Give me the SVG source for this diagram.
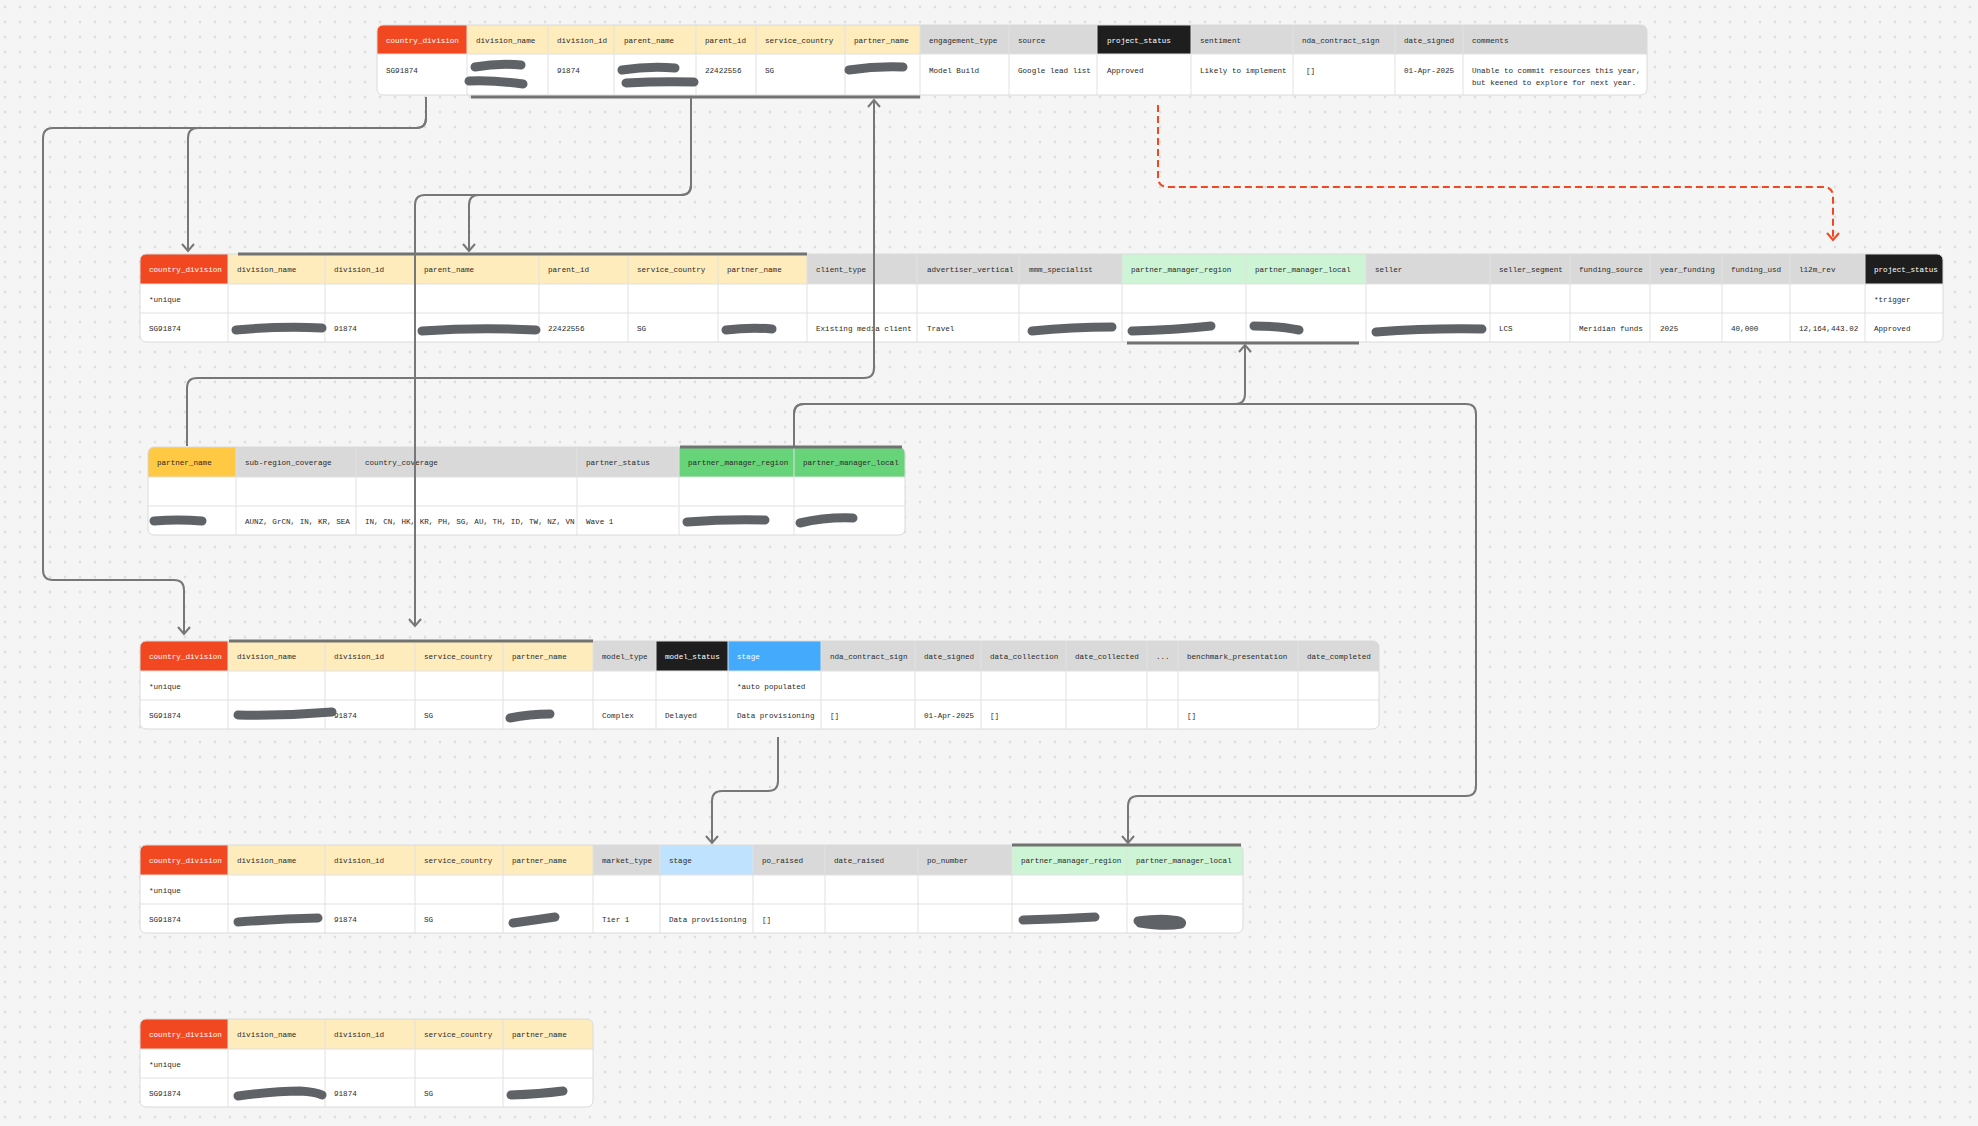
<svg xmlns="http://www.w3.org/2000/svg" width="1978" height="1126" viewBox="0 0 1978 1126">
<style>
.t{font-family:"Liberation Mono","DejaVu Sans Mono",monospace;font-size:7.6px;fill:#2a2a2a;dominant-baseline:central;transform:translateY(1px)}
.w{fill:#ffffff}
.hr{fill:#f24822}.hy{fill:#ffecbd}.hg{fill:#d9d9d9}.hk{fill:#1e1e1e}.hl{fill:#cdf5d5}.hG{fill:#68d47a}.hY{fill:#ffc943}.hB{fill:#43aafc}.hb{fill:#bfe3fe}
.cell{fill:#ffffff}
.ln{stroke:#e1e1e1;stroke-width:1;fill:none}
.out{fill:none;stroke:#dadada;stroke-width:1}
.conn{fill:none;stroke:#777777;stroke-width:2}
.red{fill:none;stroke:#f24822;stroke-width:2;stroke-dasharray:7 4}
.br{fill:none;stroke:#727272;stroke-width:3}
.scr{fill:none;stroke:#5f6368;stroke-width:9;stroke-linecap:round;stroke-linejoin:round}
</style>
<defs>
<pattern id="dots" patternUnits="userSpaceOnUse" x="-2.5" y="-0.5" width="15" height="15">
<circle cx="7.5" cy="7.5" r="0.9" fill="#c2c2c2"/>
</pattern>
<marker id="ah" markerUnits="userSpaceOnUse" viewBox="-10 -10 20 20" markerWidth="20" markerHeight="20" refX="0" refY="0" orient="auto">
<path d="M-7,-6 L0,0 L-7,6" fill="none" stroke="#777777" stroke-width="2"/>
</marker>
<marker id="ahr" markerUnits="userSpaceOnUse" viewBox="-10 -10 20 20" markerWidth="20" markerHeight="20" refX="0" refY="0" orient="auto">
<path d="M-7,-6 L0,0 L-7,6" fill="none" stroke="#f24822" stroke-width="2"/>
</marker>
<clipPath id="c1"><rect x="377" y="25" width="1270" height="70" rx="6"/></clipPath>
<clipPath id="c2"><rect x="140" y="254" width="1803" height="88" rx="6"/></clipPath>
<clipPath id="c3"><rect x="148" y="447" width="757" height="88" rx="6"/></clipPath>
<clipPath id="c4"><rect x="140" y="641" width="1239" height="88" rx="6"/></clipPath>
<clipPath id="c5"><rect x="140" y="845" width="1103" height="88" rx="6"/></clipPath>
<clipPath id="c6"><rect x="140" y="1019" width="453" height="88" rx="6"/></clipPath>
</defs>
<rect width="1978" height="1126" fill="#f5f5f5"/>
<rect width="1978" height="1126" fill="url(#dots)"/>

<!-- Table 1 -->
<g id="table-engagement">
<g clip-path="url(#c1)">
<rect class="cell" x="377" y="25" width="1270" height="70"/>
<rect class="hr" x="377" y="25" width="90" height="29"/>
<rect class="hy" x="467" y="25" width="453" height="29"/>
<rect class="hg" x="920" y="25" width="177" height="29"/>
<rect class="hk" x="1097" y="25" width="94" height="29"/>
<rect class="hg" x="1191" y="25" width="456" height="29"/>
<path class="ln" d="M467,25V95M548,25V95M614,25V95M696,25V95M756,25V95M845,25V95M920,25V95M1009,25V95M1097,25V95M1191,25V95M1293,25V95M1395,25V95M1463,25V95M377,54H1647"/>
</g>
<rect class="out" x="377" y="25" width="1270" height="70" rx="6"/>
<text class="t w" x="386" y="39.5">country_division</text>
<text class="t" x="476" y="39.5">division_name</text>
<text class="t" x="557" y="39.5">division_id</text>
<text class="t" x="624" y="39.5">parent_name</text>
<text class="t" x="705" y="39.5">parent_id</text>
<text class="t" x="765" y="39.5">service_country</text>
<text class="t" x="854" y="39.5">partner_name</text>
<text class="t" x="929" y="39.5">engagement_type</text>
<text class="t" x="1018" y="39.5">source</text>
<text class="t w" x="1107" y="39.5">project_status</text>
<text class="t" x="1200" y="39.5">sentiment</text>
<text class="t" x="1302" y="39.5">nda_contract_sign</text>
<text class="t" x="1404" y="39.5">date_signed</text>
<text class="t" x="1472" y="39.5">comments</text>
<text class="t" x="386" y="69.5">SG91874</text>
<text class="t" x="557" y="69.5">91874</text>
<text class="t" x="705" y="69.5">22422556</text>
<text class="t" x="765" y="69.5">SG</text>
<text class="t" x="929" y="69.5">Model Build</text>
<text class="t" x="1018" y="69.5">Google lead list</text>
<text class="t" x="1107" y="69.5">Approved</text>
<text class="t" x="1200" y="69.5">Likely to implement</text>
<text class="t" x="1306" y="69.5">[]</text>
<text class="t" x="1404" y="69.5">01-Apr-2025</text>
<text class="t" x="1472" y="69.5">Unable to commit resources this year,</text>
<text class="t" x="1472" y="81.5">but keened to explore for next year.</text>
<path class="scr" d="M475,67 Q498,63 521,65"/>
<path class="scr" d="M469,81 Q495,80 523,84"/>
<path class="scr" d="M622,70 Q648,66 675,68"/>
<path class="scr" d="M626,83 Q660,81 694,82"/>
<path class="scr" d="M849,70 Q876,66 903,67"/>
</g>

<!-- Table 2 -->
<g id="table-opportunity">
<g clip-path="url(#c2)">
<rect class="cell" x="140" y="254" width="1803" height="88"/>
<rect class="hr" x="140" y="254" width="88" height="30"/>
<rect class="hy" x="228" y="254" width="579" height="30"/>
<rect class="hg" x="807" y="254" width="315" height="30"/>
<rect class="hl" x="1122" y="254" width="244" height="30"/>
<rect class="hg" x="1366" y="254" width="499" height="30"/>
<rect class="hk" x="1865" y="254" width="78" height="30"/>
<path class="ln" d="M228,254V342M325,254V342M415,254V342M539,254V342M628,254V342M718,254V342M807,254V342M917,254V342M1019,254V342M1122,254V342M1246,254V342M1366,254V342M1490,254V342M1570,254V342M1650,254V342M1722,254V342M1790,254V342M1865,254V342M140,284H1943M140,313H1943"/>
</g>
<rect class="out" x="140" y="254" width="1803" height="88" rx="6"/>
<text class="t w" x="149" y="269">country_division</text>
<text class="t" x="237" y="269">division_name</text>
<text class="t" x="334" y="269">division_id</text>
<text class="t" x="424" y="269">parent_name</text>
<text class="t" x="548" y="269">parent_id</text>
<text class="t" x="637" y="269">service_country</text>
<text class="t" x="727" y="269">partner_name</text>
<text class="t" x="816" y="269">client_type</text>
<text class="t" x="927" y="269">advertiser_vertical</text>
<text class="t" x="1029" y="269">mmm_specialist</text>
<text class="t" x="1131" y="269">partner_manager_region</text>
<text class="t" x="1255" y="269">partner_manager_local</text>
<text class="t" x="1375" y="269">seller</text>
<text class="t" x="1499" y="269">seller_segment</text>
<text class="t" x="1579" y="269">funding_source</text>
<text class="t" x="1660" y="269">year_funding</text>
<text class="t" x="1731" y="269">funding_usd</text>
<text class="t" x="1799" y="269">l12m_rev</text>
<text class="t w" x="1874" y="269">project_status</text>
<text class="t" x="149" y="298.5">*unique</text>
<text class="t" x="1874" y="298.5">*trigger</text>
<text class="t" x="149" y="327.5">SG91874</text>
<text class="t" x="334" y="327.5">91874</text>
<text class="t" x="548" y="327.5">22422556</text>
<text class="t" x="637" y="327.5">SG</text>
<text class="t" x="816" y="327.5">Existing media client</text>
<text class="t" x="927" y="327.5">Travel</text>
<text class="t" x="1499" y="327.5">LCS</text>
<text class="t" x="1579" y="327.5">Meridian funds</text>
<text class="t" x="1660" y="327.5">2025</text>
<text class="t" x="1731" y="327.5">40,000</text>
<text class="t" x="1799" y="327.5">12,164,443.02</text>
<text class="t" x="1874" y="327.5">Approved</text>
<path class="scr" d="M236,330 Q280,326 322,328"/>
<path class="scr" d="M422,331 Q480,327 536,330"/>
<path class="scr" d="M726,330 Q750,327 772,329"/>
<path class="scr" d="M1032,331 Q1072,327 1112,327"/>
<path class="scr" d="M1132,331 Q1175,330 1211,326"/>
<path class="scr" d="M1254,326 Q1280,326 1299,330"/>
<path class="scr" d="M1376,332 Q1430,328 1482,329"/>
</g>

<!-- Table 3 -->
<g id="table-partner">
<g clip-path="url(#c3)">
<rect class="cell" x="148" y="447" width="757" height="88"/>
<rect class="hY" x="148" y="447" width="88" height="30"/>
<rect class="hg" x="236" y="447" width="443" height="30"/>
<rect class="hG" x="679" y="447" width="226" height="30"/>
<path class="ln" d="M236,447V535M356,447V535M577,447V535M679,447V535M794,447V535M148,477H905M148,506H905"/>
</g>
<rect class="out" x="148" y="447" width="757" height="88" rx="6"/>
<text class="t" x="157" y="462">partner_name</text>
<text class="t" x="245" y="462">sub-region_coverage</text>
<text class="t" x="365" y="462">country_coverage</text>
<text class="t" x="586" y="462">partner_status</text>
<text class="t" x="688" y="462">partner_manager_region</text>
<text class="t" x="803" y="462">partner_manager_local</text>
<text class="t" x="245" y="520.5">AUNZ, GrCN, IN, KR, SEA</text>
<text class="t" x="365" y="520.5">IN, CN, HK, KR, PH, SG, AU, TH, ID, TW, NZ, VN</text>
<text class="t" x="586" y="520.5">Wave 1</text>
<path class="scr" d="M154,521 Q178,519 202,521"/>
<path class="scr" d="M687,522 Q726,519 765,520"/>
<path class="scr" d="M800,523 Q826,517 853,518"/>
</g>

<!-- Table 4 -->
<g id="table-model">
<g clip-path="url(#c4)">
<rect class="cell" x="140" y="641" width="1239" height="88"/>
<rect class="hr" x="140" y="641" width="88" height="30"/>
<rect class="hy" x="228" y="641" width="365" height="30"/>
<rect class="hg" x="593" y="641" width="63" height="30"/>
<rect class="hk" x="656" y="641" width="72" height="30"/>
<rect class="hB" x="728" y="641" width="93" height="30"/>
<rect class="hg" x="821" y="641" width="558" height="30"/>
<path class="ln" d="M228,641V729M325,641V729M415,641V729M503,641V729M593,641V729M656,641V729M728,641V729M821,641V729M915,641V729M981,641V729M1066,641V729M1147,641V729M1178,641V729M1298,641V729M140,671H1379M140,700H1379"/>
</g>
<rect class="out" x="140" y="641" width="1239" height="88" rx="6"/>
<text class="t w" x="149" y="656">country_division</text>
<text class="t" x="237" y="656">division_name</text>
<text class="t" x="334" y="656">division_id</text>
<text class="t" x="424" y="656">service_country</text>
<text class="t" x="512" y="656">partner_name</text>
<text class="t" x="602" y="656">model_type</text>
<text class="t w" x="665" y="656">model_status</text>
<text class="t w" x="737" y="656">stage</text>
<text class="t" x="830" y="656">nda_contract_sign</text>
<text class="t" x="924" y="656">date_signed</text>
<text class="t" x="990" y="656">data_collection</text>
<text class="t" x="1075" y="656">date_collected</text>
<text class="t" x="1156" y="656">...</text>
<text class="t" x="1187" y="656">benchmark_presentation</text>
<text class="t" x="1307" y="656">date_completed</text>
<text class="t" x="149" y="685.5">*unique</text>
<text class="t" x="737" y="685.5">*auto populated</text>
<text class="t" x="149" y="714.5">SG91874</text>
<text class="t" x="334" y="714.5">91874</text>
<text class="t" x="424" y="714.5">SG</text>
<text class="t" x="602" y="714.5">Complex</text>
<text class="t" x="665" y="714.5">Delayed</text>
<text class="t" x="737" y="714.5">Data provisioning</text>
<text class="t" x="830" y="714.5">[]</text>
<text class="t" x="924" y="714.5">01-Apr-2025</text>
<text class="t" x="990" y="714.5">[]</text>
<text class="t" x="1187" y="714.5">[]</text>
<path class="scr" d="M238,715 Q285,716 332,712"/>
<path class="scr" d="M510,718 Q530,714 550,714"/>
</g>

<!-- Table 5 -->
<g id="table-po">
<g clip-path="url(#c5)">
<rect class="cell" x="140" y="845" width="1103" height="88"/>
<rect class="hr" x="140" y="845" width="88" height="30"/>
<rect class="hy" x="228" y="845" width="365" height="30"/>
<rect class="hg" x="593" y="845" width="67" height="30"/>
<rect class="hb" x="660" y="845" width="93" height="30"/>
<rect class="hg" x="753" y="845" width="259" height="30"/>
<rect class="hl" x="1012" y="845" width="231" height="30"/>
<path class="ln" d="M228,845V933M325,845V933M415,845V933M503,845V933M593,845V933M660,845V933M753,845V933M825,845V933M918,845V933M1012,845V933M1127,845V933M140,875H1243M140,904H1243"/>
</g>
<rect class="out" x="140" y="845" width="1103" height="88" rx="6"/>
<text class="t w" x="149" y="860">country_division</text>
<text class="t" x="237" y="860">division_name</text>
<text class="t" x="334" y="860">division_id</text>
<text class="t" x="424" y="860">service_country</text>
<text class="t" x="512" y="860">partner_name</text>
<text class="t" x="602" y="860">market_type</text>
<text class="t" x="669" y="860">stage</text>
<text class="t" x="762" y="860">po_raised</text>
<text class="t" x="834" y="860">date_raised</text>
<text class="t" x="927" y="860">po_number</text>
<text class="t" x="1021" y="860">partner_manager_region</text>
<text class="t" x="1136" y="860">partner_manager_local</text>
<text class="t" x="149" y="889.5">*unique</text>
<text class="t" x="149" y="918.5">SG91874</text>
<text class="t" x="334" y="918.5">91874</text>
<text class="t" x="424" y="918.5">SG</text>
<text class="t" x="602" y="918.5">Tier 1</text>
<text class="t" x="669" y="918.5">Data provisioning</text>
<text class="t" x="762" y="918.5">[]</text>
<path class="scr" d="M238,922 Q278,919 318,918"/>
<path class="scr" d="M513,923 Q535,920 555,917"/>
<path class="scr" d="M1023,920 Q1060,919 1095,917"/>
<path class="scr" d="M1138,921 Q1160,918 1172,920 Q1184,921 1181,924 Q1165,927 1140,923"/>
</g>

<!-- Table 6 -->
<g id="table-division">
<g clip-path="url(#c6)">
<rect class="cell" x="140" y="1019" width="453" height="88"/>
<rect class="hr" x="140" y="1019" width="88" height="30"/>
<rect class="hy" x="228" y="1019" width="365" height="30"/>
<path class="ln" d="M228,1019V1107M325,1019V1107M415,1019V1107M503,1019V1107M140,1049H593M140,1078H593"/>
</g>
<rect class="out" x="140" y="1019" width="453" height="88" rx="6"/>
<text class="t w" x="149" y="1034">country_division</text>
<text class="t" x="237" y="1034">division_name</text>
<text class="t" x="334" y="1034">division_id</text>
<text class="t" x="424" y="1034">service_country</text>
<text class="t" x="512" y="1034">partner_name</text>
<text class="t" x="149" y="1063.5">*unique</text>
<text class="t" x="149" y="1092.5">SG91874</text>
<text class="t" x="334" y="1092.5">91874</text>
<text class="t" x="424" y="1092.5">SG</text>
<path class="scr" d="M238,1096 Q275,1091 300,1091 Q316,1092 322,1095"/>
<path class="scr" d="M511,1095 Q540,1094 563,1091"/>
</g>

<!-- Connectors -->
<g id="connectors">
<path class="br" d="M471,97H920"/>
<path class="br" d="M238,254H807"/>
<path class="br" d="M1127,343H1359"/>
<path class="br" d="M680,447H902"/>
<path class="br" d="M229,641H593"/>
<path class="br" d="M1012,845H1241"/>
<path class="conn" marker-end="url(#ah)" d="M426,97V118Q426,128 416,128H198Q188,128 188,138V251"/>
<path class="conn" marker-end="url(#ah)" d="M426,97V118Q426,128 416,128H53Q43,128 43,138V570Q43,580 53,580H174Q184,580 184,590V634"/>
<path class="conn" marker-end="url(#ah)" d="M691,98V185Q691,195 681,195H479Q469,195 469,205V251"/>
<path class="conn" marker-end="url(#ah)" d="M691,98V185Q691,195 681,195H425Q415,195 415,205V626"/>
<path class="conn" marker-end="url(#ah)" d="M187,446V388Q187,378 197,378H864Q874,378 874,368V100"/>
<path class="red" marker-end="url(#ahr)" d="M1158,105V177Q1158,187 1168,187H1823Q1833,187 1833,197V240"/>
<path class="conn" marker-end="url(#ah)" d="M794,446V414Q794,404 804,404H1235Q1245,404 1245,394V345"/>
<path class="conn" marker-end="url(#ah)" d="M794,446V414Q794,404 804,404H1466Q1476,404 1476,414V786Q1476,796 1466,796H1138Q1128,796 1128,806V843"/>
<path class="conn" marker-end="url(#ah)" d="M778,737V781Q778,791 768,791H722Q712,791 712,801V843"/>
</g>
</svg>
